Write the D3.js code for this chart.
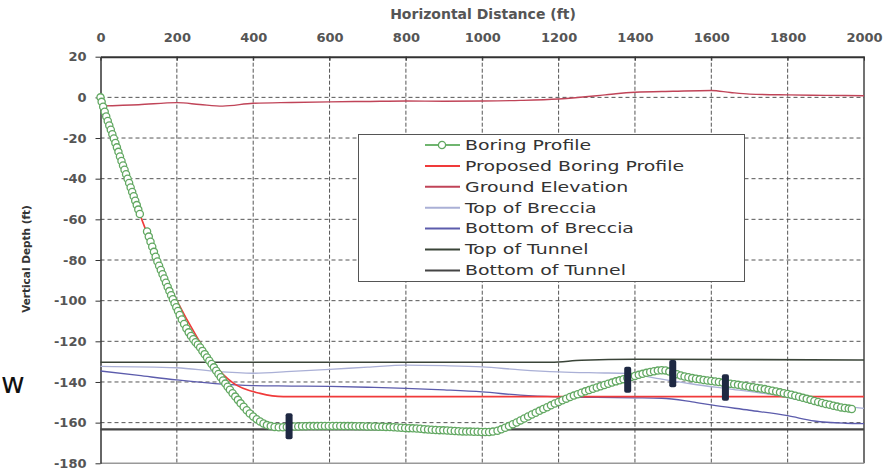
<!DOCTYPE html>
<html>
<head>
<meta charset="utf-8">
<script src="https://cdn.jsdelivr.net/npm/d3@7"></script>
<style>
    body { margin: 0; background: #fff; }
    .axis text { font-family: "DejaVu Sans", sans-serif; font-weight: bold; font-size: 13px; fill: #555; }
    .grid line { stroke: #555; stroke-width: 1; stroke-dasharray: 4,3; }
    .legend-text { font-family: "DejaVu Sans", sans-serif; font-size: 13.5px; fill: #333; }
</style>
</head>
<body>
<div id="chart"></div>
<script>

// tick labels
const xTicks = [0, 200, 400, 600, 800, 1000, 1200, 1400, 1600, 1800, 2000];
const yTicks = [20, 0, -20, -40, -60, -80, -100, -120, -140, -160, -180];

const seriesNames = ["Boring Profile", "Proposed Boring Profile", "Ground Elevation", "Top of Breccia",
    "Bottom of Breccia", "Top of Tunnel", "Bottom of Tunnel"];
const seriesColors = ["#6fb56f", "#f03a3a", "#c04458", "#aab0d6", "#5c5cac", "#3a4438", "#444444"];

// boring profile, [distance, depth]; null = no survey there
const boringProfile = [
    [0, 0], [3, -2.2], [7, -4.6], [11, -7.1], [15, -9.4], [19, -11.6], [23, -13.8], [27, -15.9], [31, -18.1],
    [35, -20.2], [39, -22.4], [43, -24.6], [47, -26.8], [51, -29.1], [55, -31.3], [59, -33.5], [63, -35.6],
    [67, -37.8], [71, -40], [75, -42.1], [79, -44.3], [83, -46.5], [87, -48.6], [91, -50.8], [95, -53],
    [99, -55.2], [103, -57.4], [113, null],
    [122, -66], [126.5, -68.5], [131, -71], [135.5, -73.5], [140, -76], [144.5, -78.4], [149, -80.7],
    [153.5, -82.8], [158, -84.9], [162.5, -87], [167, -89.1], [171.5, -91.2], [176, -93.3], [180.5, -95.3],
    [185, -97.3], [189.5, -99.3], [194, -101.3], [198.5, -103.2], [203, -105.1], [207.5, -107],
    [213, -109.3], [219, -111.5], [225, -113.7], [231, -115.6], [237, -117.4], [243, -119], [249, -120.4],
    [255, -121.7], [261, -123], [267, -124.7], [273, -126.3], [279, -127.9], [285, -129.5], [291, -131.1],
    [297, -132.8], [303, -134.5], [309, -136.1], [315, -137.7], [321, -139.3], [327, -140.8], [333, -142.3],
    [339, -143.8], [346, -145.5], [353, -147.2], [360, -148.8], [367, -150.5], [375, -152.2], [383, -153.9],
    [391, -155.5], [400, -157], [409, -158.3], [418, -159.4], [427, -160.4], [436, -161.2], [446, -161.7],
    [456, -162.1], [467, -162.3], [478, -162.3],
    [488, -162.1], [498, -162], [508, -161.9], [518, -161.9], [528, -161.8], [538, -161.8], [548, -161.7],
    [558, -161.7], [568, -161.7], [578, -161.6], [588, -161.6], [598, -161.6], [608, -161.6], [618, -161.6],
    [628, -161.6], [638, -161.7], [648, -161.7], [658, -161.7], [668, -161.8], [678, -161.8], [688, -161.8],
    [698, -161.9], [708, -161.9], [718, -161.9], [728, -162], [738, -162], [748, -162.1], [758, -162.2],
    [768, -162.3], [778, -162.4], [788, -162.5], [798, -162.6], [808, -162.7], [818, -162.8], [828, -162.9],
    [838, -163], [848, -163.2], [858, -163.4], [868, -163.5], [878, -163.6], [888, -163.7], [898, -163.8],
    [908, -163.9], [918, -164], [928, -164.1], [938, -164.2], [948, -164.3], [958, -164.4], [968, -164.4],
    [978, -164.5], [988, -164.5], [998, -164.6], [1008, -164.6], [1018, -164.6], [1028, -164.4],
    [1040, -164], [1050, -163.3], [1060, -162.5], [1070, -161.7], [1080, -160.8], [1090, -159.9],
    [1100, -158.9], [1110, -158], [1120, -157], [1130, -156], [1140, -155.1], [1150, -154.2], [1160, -153.3],
    [1170, -152.4], [1180, -151.5], [1190, -150.6], [1200, -149.8], [1210, -149], [1220, -148.2],
    [1230, -147.4], [1240, -146.7], [1250, -146], [1260, -145.3], [1270, -144.6], [1280, -144],
    [1290, -143.3], [1300, -142.7], [1310, -142.1], [1320, -141.5], [1330, -140.9], [1340, -140.3],
    [1350, -139.7], [1360, -139.2], [1370, -138.6], [1380, -138.1], [1390, -137.5], [1400, -137],
    [1410, -136.5], [1420, -136], [1430, -135.5], [1440, -135.1], [1450, -134.7], [1460, -134.4],
    [1470, -134.2], [1480, -134.3], [1490, -134.9], [1500, -135.6], [1510, -136.2], [1520, -136.8],
    [1530, -137.3], [1540, -137.7], [1550, -138.1], [1560, -138.4], [1570, -138.7], [1580, -139],
    [1590, -139.3], [1600, -139.5], [1610, -139.8], [1620, -140], [1630, -140.3], [1640, -140.6],
    [1650, -140.9], [1660, -141.1], [1670, -141.4], [1680, -141.7], [1690, -142], [1700, -142.3],
    [1710, -142.6], [1720, -142.9], [1730, -143.2], [1740, -143.5], [1750, -143.9], [1760, -144.3],
    [1770, -144.7], [1780, -145.1], [1790, -145.5], [1800, -145.9], [1810, -146.3], [1820, -146.8],
    [1830, -147.3], [1840, -147.8], [1850, -148.3], [1860, -148.8], [1870, -149.3], [1880, -149.8],
    [1890, -150.3], [1900, -150.8], [1910, -151.2], [1920, -151.7], [1930, -152.1], [1940, -152.5],
    [1950, -152.8], [1960, -153.1], [1968, -153.3]
];

const proposedProfile = [[0, 0], [60, -33], [110, -61], [150, -80], [200, -100], [252, -117.7],
    [295, -130.5], [348, -140.6], [418, -145.6], [479, -147.2], [800, -147.2], [1200, -147.2],
    [1600, -147.2], [2000, -147.2]];

const groundElevation = [[0, -4.2], [100, -3.6], [200, -2.6], [260, -3.5], [320, -4.3], [400, -2.9],
    [500, -2.5], [600, -2.2], [700, -2], [800, -1.8], [900, -1.9], [1000, -1.8], [1100, -1.5], [1200, -0.8],
    [1300, 0.8], [1350, 1.8], [1400, 2.5], [1500, 3], [1600, 3.4], [1650, 2.4], [1700, 1.6], [1800, 1.2],
    [1900, 1], [2000, 0.8]];

const topBreccia = [[0, -132.3], [200, -133], [300, -134.8], [400, -135.7], [500, -134.8], [600, -133.8],
    [700, -132.7], [800, -131.7], [900, -132], [1000, -132.6], [1100, -134], [1200, -135], [1300, -135.5],
    [1380, -135.8], [1450, -138], [1550, -141], [1650, -143.5], [1750, -146], [1850, -149.5], [1950, -152],
    [2000, -153]];

const bottomBreccia = [[0, -134.6], [100, -136.8], [200, -139], [300, -140.8], [400, -141.8], [500, -142],
    [600, -142.2], [700, -142.6], [800, -143.1], [900, -143.9], [1000, -144.9], [1100, -146.5], [1200, -147.3],
    [1300, -147.6], [1400, -147.8], [1470, -148], [1550, -149.8], [1600, -151.3], [1700, -153.9],
    [1800, -156.6], [1870, -159.2], [1950, -160.3], [2000, -160.5]];

const topTunnel = [[0, -130.3], [1180, -130.3], [1260, -129.3], [1400, -128.8], [2000, -129.2]];
const bottomTunnel = [[0, -163.3], [2000, -163.3]];

// dark bars across the boring (distance, top depth, bottom depth)
const barX = [494, 1381, 1499, 1637];
const barTop = [-155.4, -132.5, -129.2, -136.2];
const barBottom = [-168.2, -145.3, -142.6, -149.2];


class cProfileChart {

    constructor(_parentElement) {
        this.parentElement = _parentElement;
        this.initVis();
    }

    initVis() {
        let vis = this;

        vis.margin = { top: 56.7, right: 24, bottom: 8.7, left: 100.5 };
        vis.width = 888 - vis.margin.left - vis.margin.right;
        vis.height = 472 - vis.margin.top - vis.margin.bottom;

        vis.root = d3.select("#" + vis.parentElement).append("svg")
            .attr("width", 888)
            .attr("height", 472);

        vis.svg = vis.root.append("g")
            .attr("transform", "translate(" + vis.margin.left + "," + vis.margin.top + ")");

        vis.x = d3.scaleLinear().domain([0, 2000]).range([0, vis.width]);
        vis.y = d3.scaleLinear().domain([-180, 20]).range([vis.height, 0]);

        // gridlines (skip the frame ones)
        vis.svg.append("g").attr("class", "grid")
            .selectAll("line.h")
            .data(yTicks.filter(d => d != 20 && d != -180))
            .enter().append("line")
            .attr("x1", 0).attr("x2", vis.width)
            .attr("y1", d => vis.y(d)).attr("y2", d => vis.y(d));

        vis.svg.append("g").attr("class", "grid")
            .selectAll("line.v")
            .data(xTicks.filter(d => d != 0 && d != 2000))
            .enter().append("line")
            .attr("y1", 0).attr("y2", vis.height)
            .attr("x1", d => vis.x(d)).attr("x2", d => vis.x(d))
            .style("stroke-dasharray", "4,2");

        // right + bottom frame
        vis.svg.append("line")
            .attr("x1", vis.width).attr("x2", vis.width)
            .attr("y1", 0).attr("y2", vis.height)
            .attr("stroke", "#444").attr("stroke-width", 1.5);
        vis.svg.append("line")
            .attr("x1", 0).attr("x2", vis.width)
            .attr("y1", vis.height).attr("y2", vis.height)
            .attr("stroke", "#999").attr("stroke-width", 1.5);

        // axes - plain numbers, ascii minus
        vis.xAxis = d3.axisTop(vis.x).tickValues(xTicks).tickFormat(d => String(d))
            .tickSizeInner(-4).tickSizeOuter(0).tickPadding(14.5);
        vis.yAxis = d3.axisLeft(vis.y).tickValues(yTicks).tickFormat(d => String(d))
            .tickSizeInner(5).tickSizeOuter(0).tickPadding(9);

        vis.svg.append("g").attr("class", "x-axis axis").call(vis.xAxis);
        vis.svg.append("g").attr("class", "y-axis axis").call(vis.yAxis);

        vis.svg.selectAll(".axis .tick line").attr("stroke", "#333");
        vis.svg.select(".x-axis .domain").attr("stroke", "#333").attr("stroke-width", 2);
        vis.svg.select(".y-axis .domain").attr("stroke", "#333").attr("stroke-width", 1.5);

        // axis titles
        vis.root.append("text")
            .attr("x", 483).attr("y", 19)
            .attr("text-anchor", "middle")
            .style("font-family", "DejaVu Sans, sans-serif")
            .style("font-weight", "bold")
            .style("font-size", "14px")
            .style("fill", "#555")
            .text("Horizontal Distance (ft)");

        vis.root.append("text")
            .attr("transform", "translate(30,259) rotate(-90)")
            .attr("text-anchor", "middle")
            .style("font-family", "DejaVu Sans, sans-serif")
            .style("font-weight", "bold")
            .style("font-size", "10.5px")
            .style("fill", "#333")
            .text("Vertical Depth (ft)");

        // stray letter on the left edge of the picture
        vis.root.append("text")
            .attr("x", 1).attr("y", 393)
            .style("font-family", "DejaVu Sans, sans-serif")
            .style("font-size", "29px")
            .style("fill", "#111")
            .text("w");

        vis.wrangleData();
    }

    wrangleData() {
        let vis = this;

        vis.displayData = [
            { name: seriesNames[0], values: boringProfile, width: 1.2 },
            { name: seriesNames[1], values: proposedProfile, width: 1.6 },
            { name: seriesNames[2], values: groundElevation, width: 1.4 },
            { name: seriesNames[3], values: topBreccia, width: 1.3 },
            { name: seriesNames[4], values: bottomBreccia, width: 1.3 },
            { name: seriesNames[5], values: topTunnel, width: 1.6 },
            { name: seriesNames[6], values: bottomTunnel, width: 2.2 }
        ];

        vis.updateVis();
    }

    updateVis() {
        let vis = this;

        let line = d3.line()
            .defined(d => d[1] !== null)
            .x(d => vis.x(d[0]))
            .y(d => vis.y(d[1]))
            .curve(d3.curveMonotoneX);

        // other lines first, boring profile on top of them
        let order = [6, 5, 4, 3, 2, 1, 0];
        order.forEach(i => {
            let s = vis.displayData[i];
            vis.svg.append("path")
                .datum(s.values)
                .attr("fill", "none")
                .attr("stroke", seriesColors[i])
                .attr("stroke-width", s.width)
                .attr("d", line);
        });

        // circle markers
        vis.svg.selectAll(".bp-marker")
            .data(boringProfile.filter(d => d[1] !== null))
            .enter().append("circle")
            .attr("class", "bp-marker")
            .attr("cx", d => vis.x(d[0]))
            .attr("cy", d => vis.y(d[1]))
            .attr("r", 3.6)
            .attr("fill", "#fff")
            .attr("stroke", "#62a862")
            .attr("stroke-width", 1.3);

        // navy bars
        vis.svg.selectAll(".bar")
            .data(barX)
            .enter().append("rect")
            .attr("class", "bar")
            .attr("x", d => vis.x(d) - 3.5)
            .attr("y", (d, i) => vis.y(barTop[i]))
            .attr("width", 7)
            .attr("height", (d, i) => vis.y(barBottom[i]) - vis.y(barTop[i]))
            .attr("rx", 2)
            .attr("fill", "#1e2842");

        // legend
        let legend = vis.root.append("g").attr("class", "legend");

        legend.append("rect")
            .attr("x", 358.5).attr("y", 134.5)
            .attr("width", 386).attr("height", 147)
            .attr("fill", "#fff")
            .attr("stroke", "#555");

        let items = legend.selectAll(".legend-item")
            .data(seriesNames)
            .enter().append("g")
            .attr("class", "legend-item")
            .attr("transform", (d, i) => "translate(0," + (145 + i * 20.9) + ")");

        items.append("line")
            .attr("x1", 425).attr("x2", 460)
            .attr("stroke", (d, i) => seriesColors[i])
            .attr("stroke-width", 2);

        items.filter((d, i) => i == 0).append("circle")
            .attr("cx", 442).attr("r", 3.6)
            .attr("fill", "#fff").attr("stroke", "#62a862").attr("stroke-width", 1.3);

        items.append("text")
            .attr("class", "legend-text")
            .attr("transform", "translate(465,0) scale(1.4,1)")
            .attr("dy", "0.36em")
            .text(d => d);
    }
}

new cProfileChart("chart");

</script>
</body>
</html>
